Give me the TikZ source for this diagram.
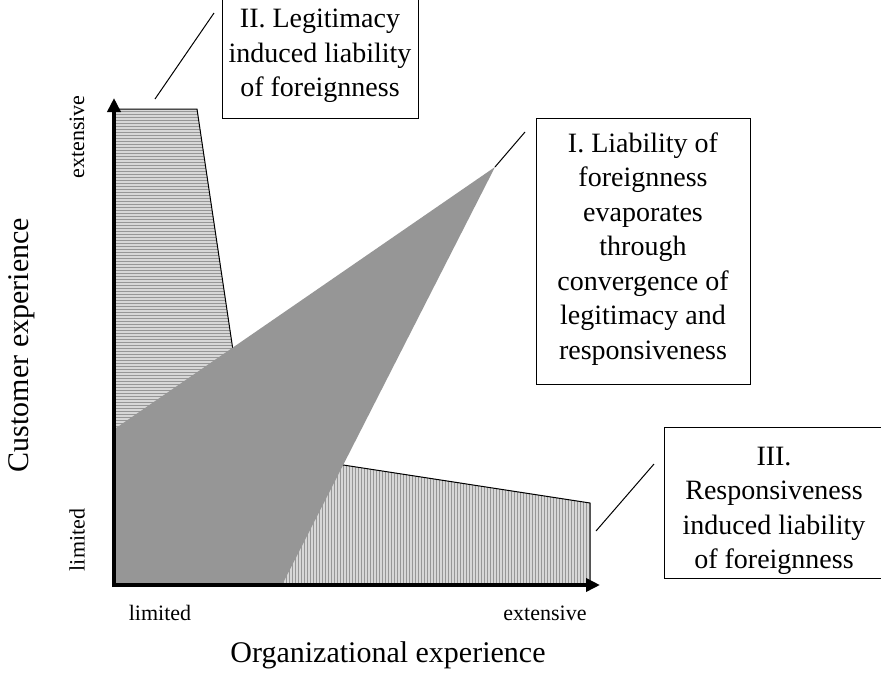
\documentclass[tikz,border=0pt]{standalone}
\usepackage{fontspec}
\setmainfont{Liberation Serif}
\usetikzlibrary{arrows.meta}
\definecolor{midgray}{RGB}{150,150,150}
\definecolor{stripe}{RGB}{215,215,215}
\begin{document}
\begin{tikzpicture}[x=1pt,y=-1pt,
  boxframe/.style={draw, line width=1pt, inner sep=0pt},
  boxtext/.style={align=center, font=\fontsize{28}{34.5}\selectfont, inner sep=0pt},
  axislabel/.style={font=\fontsize{22}{26}\selectfont, inner sep=0pt},
  axistitle/.style={font=\fontsize{30}{34}\selectfont, inner sep=0pt},
  axisline/.style={line width=4.5pt, -{Triangle[length=14pt,width=13pt]}},
  edgeline/.style={line width=1pt},
  leader/.style={line width=1pt}]
\useasboundingbox (0,0) rectangle (881,675);
% Region II (horizontal stripes)
\begin{scope}
  \clip (116,109) -- (197,109) -- (268,585) -- (116,585) -- cycle;
  \fill[midgray] (110,100) rectangle (275,590);
  \foreach \y in {110,113,...,587} \draw[stripe, line width=1.2pt] (110,\y) -- (275,\y);
\end{scope}
\draw[edgeline] (116,109) -- (197,109) -- (268,585);
% Region III (vertical stripes)
\begin{scope}
  \clip (116,430) -- (590,503) -- (590,585) -- (116,585) -- cycle;
  \fill[midgray] (110,420) rectangle (595,590);
  \foreach \x in {117,120,...,590} \draw[stripe, line width=1.1pt] (\x,420) -- (\x,590);
\end{scope}
\draw[edgeline] (116,430) -- (590,503) -- (590,585);
% Region I (solid gray)
\fill[midgray] (116,428) -- (495,167) -- (282,585) -- (116,585) -- cycle;
% Axes
\coordinate (origin) at (114,587);
\coordinate (ytop) at (114,98);
\coordinate (xorigin) at (112,585);
\coordinate (xend) at (600,585);
\draw[axisline] (origin) -- (ytop);
\draw[axisline] (xorigin) -- (xend);
% Boxes
\node[boxframe, minimum width=196pt, minimum height=134pt] (boxII) at (320,51) {};
\node[boxtext] (textII) at (320,56) {II. Legitimacy\\induced liability\\of foreignness};
\node[boxframe, minimum width=214pt, minimum height=266pt] (boxI) at (643,251) {};
\node[boxtext] (textI) at (643,249) {I. Liability of\\foreignness\\evaporates\\through\\convergence of\\legitimacy and\\responsiveness};
\node[boxframe, minimum width=220pt, minimum height=151pt] (boxIII) at (774,502.5) {};
\node[boxtext] (textIII) at (774,511) {III.\\Responsiveness\\induced liability\\of foreignness};
% Leader lines
\coordinate (IIa) at (155,99);  \coordinate (IIb) at (214,13);
\coordinate (Ia) at (495,167);  \coordinate (Ib) at (525,132);
\coordinate (IIIa) at (596,531); \coordinate (IIIb) at (654,464);
\draw[leader] (IIa) -- (IIb);
\draw[leader] (Ia) -- (Ib);
\draw[leader] (IIIa) -- (IIIb);
% Axis labels
\node[axislabel, rotate=90] (yext) at (77,137) {extensive};
\node[axislabel, rotate=90] (ylim) at (77,540) {limited};
\node[axistitle, rotate=90] (ytitle) at (22,345) {Customer experience};
\node[axislabel] (xlim) at (160,613) {limited};
\node[axislabel] (xext) at (545,613) {extensive};
\node[axistitle] (xtitle) at (388,655) {Organizational experience};
\end{tikzpicture}
\end{document}
